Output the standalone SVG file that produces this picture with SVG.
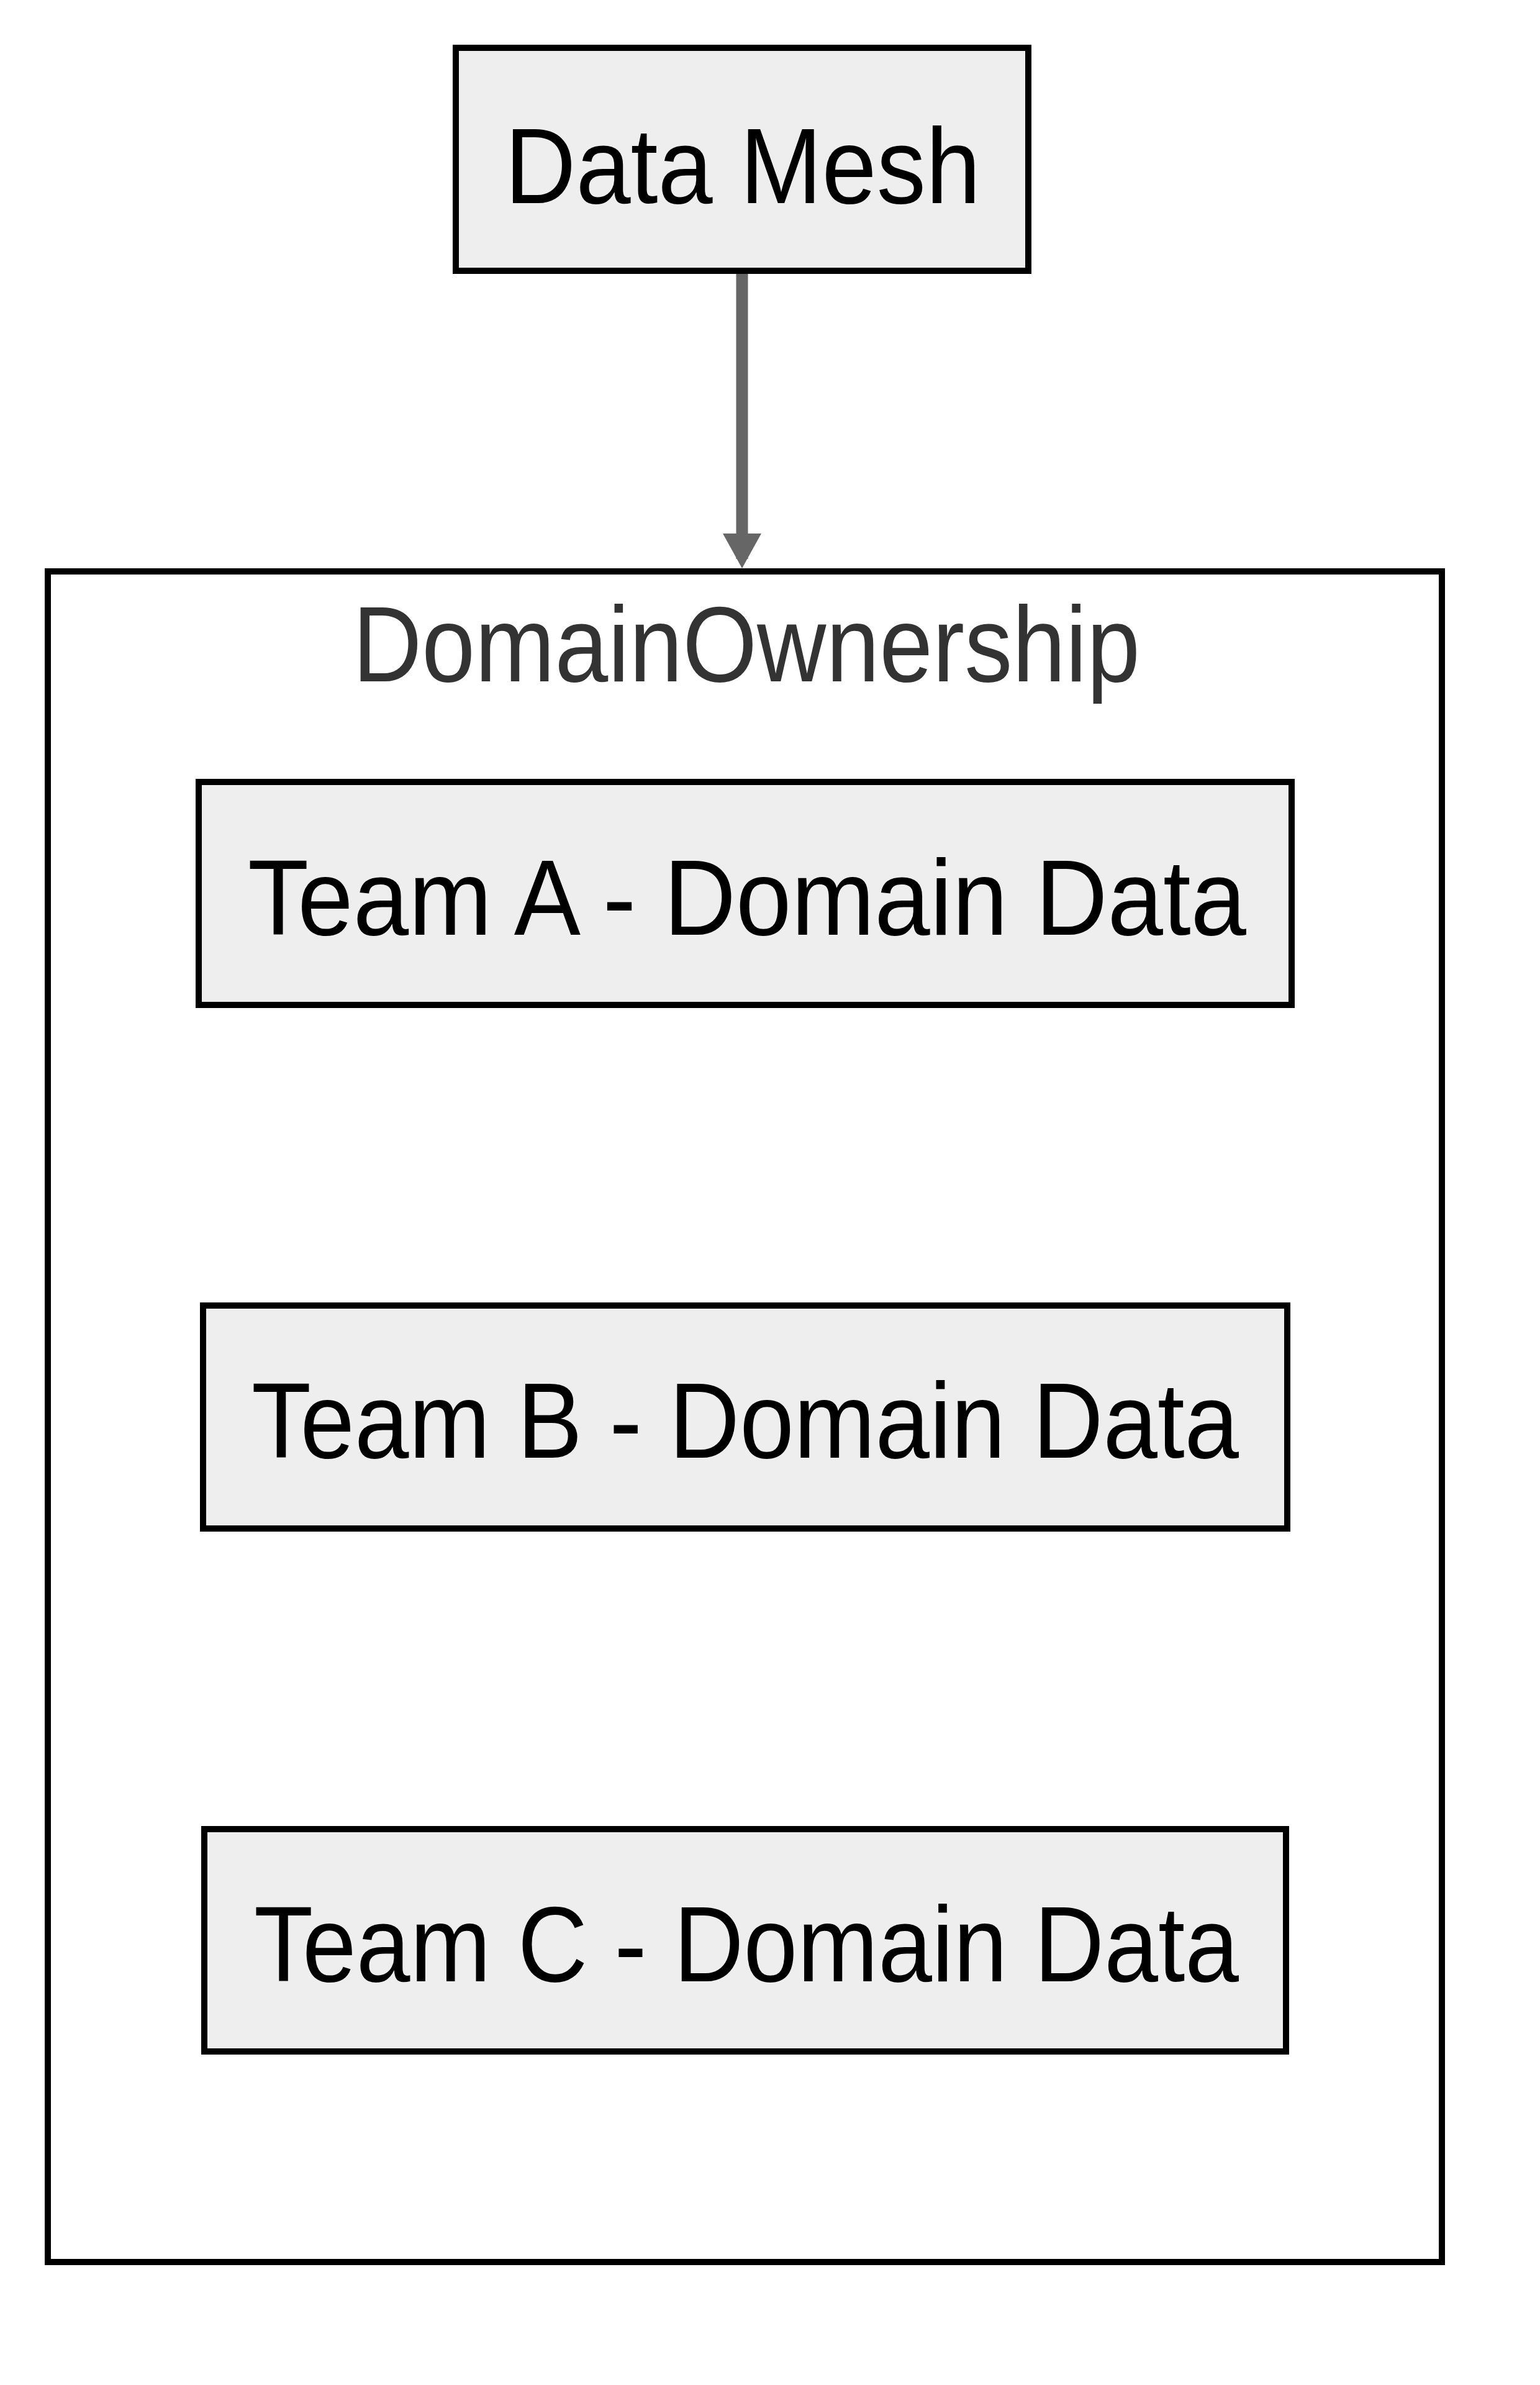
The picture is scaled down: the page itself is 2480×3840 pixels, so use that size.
<svg xmlns="http://www.w3.org/2000/svg" width="2480" height="3840" viewBox="0 0 2480 3840">
<style>
.node rect{fill:#eeeeee;stroke:#000000;stroke-width:10}
.cluster rect{fill:#ffffff;stroke:#000000;stroke-width:10}
.lbl{font-family:"Liberation Sans",Arial,sans-serif;font-size:172px;fill:#000000;text-anchor:middle}
.clbl{font-family:"Liberation Sans",Arial,sans-serif;font-size:172px;fill:#333333;text-anchor:middle}
.edge{stroke:#666666;stroke-width:19;fill:none}
</style>
<defs>
<marker id="arrow" markerUnits="userSpaceOnUse" viewBox="0 0 62 56" refX="31" refY="56" markerWidth="62" markerHeight="56" orient="auto-start-reverse">
<path d="M0,0 L62,0 L31,56 Z" fill="#666666"/>
</marker>
</defs>
<rect width="2480" height="3840" fill="#ffffff"/>
<g id="DomainOwnership" class="cluster">
<rect x="77" y="920" width="2245" height="2722"/>
<text class="clbl" x="1202" y="1097" textLength="1268" lengthAdjust="spacingAndGlyphs">DomainOwnership</text>
</g>
<g id="connectors">
<line class="edge" x1="1195" y1="441" x2="1195" y2="900"/>
<path d="M1164,859 L1226,859 L1195,915 Z" fill="#666666"/>
</g>
<g id="DataMesh" class="node">
<rect x="734" y="77" width="922" height="359"/>
<text class="lbl" x="1196" y="327" textLength="766" lengthAdjust="spacingAndGlyphs">Data Mesh</text>
</g>
<g id="TeamA" class="node">
<rect x="320" y="1259" width="1760" height="359"/>
<text class="lbl" x="1203" y="1505" textLength="1608" lengthAdjust="spacingAndGlyphs">Team A - Domain Data</text>
</g>
<g id="TeamB" class="node">
<rect x="327" y="2102" width="1746" height="359"/>
<text class="lbl" x="1200" y="2347" textLength="1590" lengthAdjust="spacingAndGlyphs">Team B - Domain Data</text>
</g>
<g id="TeamC" class="node">
<rect x="329" y="2945" width="1742" height="358"/>
<text class="lbl" x="1202" y="3190" textLength="1586" lengthAdjust="spacingAndGlyphs">Team C - Domain Data</text>
</g>
</svg>
